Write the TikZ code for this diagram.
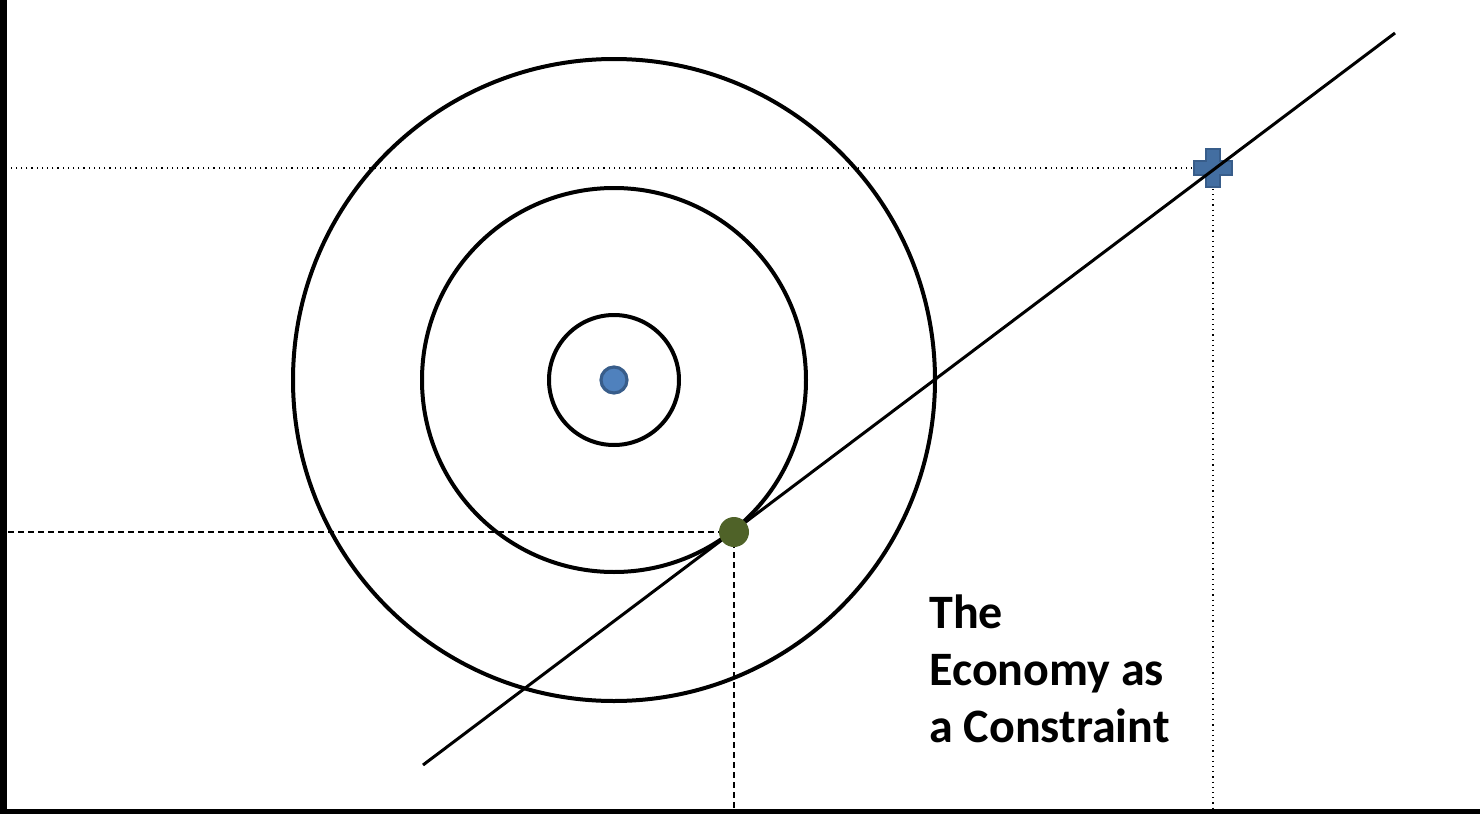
\documentclass[tikz,border=0pt]{standalone}
\usepackage{fontspec}
\setmainfont{Carlito}
\usepackage{xcolor}
\usetikzlibrary{positioning}
\definecolor{dotblue}{HTML}{4F81BD}
\definecolor{dotedge}{HTML}{385D8A}
\definecolor{olive}{HTML}{4F6228}

\begin{document}
\begin{tikzpicture}[x=0.5pt,y=-0.5pt,ring/.style={draw,line width=2pt},guide/.style={line width=0.6pt,dotted},help/.style={line width=0.7pt,dash pattern=on 3pt off 2pt},dot/.style={circle,inner sep=0pt}]
\useasboundingbox (0,0) rectangle (1480,814);
% axes
\draw[line width=3pt] (3.5,0) -- (3.5,811.5) -- (1480,811.5);
\coordinate (o) at (3.5,811.5);
% indifference circles
\coordinate (c) at (614,380);
\draw[ring] (c) circle[radius=65];
\draw[ring] (c) circle[radius=192];
\draw[ring] (c) circle[radius=321];
% guide lines
\coordinate (tan) at (734,532); \coordinate (want) at (1213,168);
\draw[help] (tan) -- (tan -| o); \draw[help] (tan) -- (tan |- o);
\draw[guide] (want) -- (want -| o); \draw[guide] (want) -- (want |- o);
\filldraw[fill=dotblue!85!black,draw=dotedge,line width=0.8pt] (want) ++(-19,-7) -- ++(12,0) -- ++(0,-12) -- ++(14,0) -- ++(0,12) -- ++(12,0) -- ++(0,14) -- ++(-12,0) -- ++(0,12) -- ++(-14,0) -- ++(0,-12) -- ++(-12,0) -- cycle;
% budget line
\coordinate (lo) at (423,765); \coordinate (hi) at (1395,33);
\draw[line width=1.5pt] (lo) -- (hi);
% points
\node[dot,fill=olive,minimum size=15pt] (opt) at (tan) {};
\node[dot,fill=dotblue,draw=dotedge,line width=1.6pt,minimum size=13pt] (bliss) at (c) {};
% label
\node[anchor=base west,align=left,inner sep=0pt,font=\bfseries\fontsize{24}{28.5}\selectfont] (lbl) at (929,742) {The\\Economy as\\a Constraint};
\end{tikzpicture}
\end{document}
